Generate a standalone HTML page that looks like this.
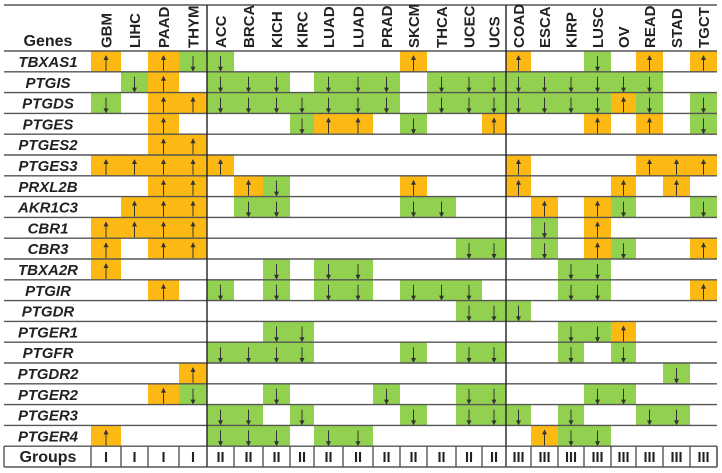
<!DOCTYPE html>
<html><head><meta charset="utf-8"><style>
html,body{margin:0;padding:0;background:#fff;}
svg{display:block;font-family:"Liberation Sans",Arial,sans-serif;}
</style></head><body>
<svg id="chart" width="722" height="473" viewBox="0 0 722 473" xmlns="http://www.w3.org/2000/svg"></svg>
<script>
const cancers = ["GBM","LIHC","PAAD","THYM","ACC","BRCA","KICH","KIRC","LUAD","LUAD","PRAD","SKCM","THCA","UCEC","UCS","COAD","ESCA","KIRP","LUSC","OV","READ","STAD","TGCT"];
const groups = ["I","I","I","I","II","II","II","II","II","II","II","II","II","II","II","III","III","III","III","III","III","III","III"];
const genes = ["TBXAS1","PTGIS","PTGDS","PTGES","PTGES2","PTGES3","PRXL2B","AKR1C3","CBR1","CBR3","TBXA2R","PTGIR","PTGDR","PTGER1","PTGFR","PTGDR2","PTGER2","PTGER3","PTGER4"];
// u = up (orange), d = down (green), "" = no change; columns follow `cancers`
const regulation = [
 ["u","","u","d","d","","","","","","","u","","","","u","","","d","","u","","u"],
 ["","d","u","","d","d","d","","d","d","d","","d","d","d","d","d","d","d","d","d","",""],
 ["d","","u","u","d","d","d","d","d","d","d","","d","d","d","d","d","d","d","u","d","","d"],
 ["","","u","","","","","d","u","u","","d","","","u","","","","u","","u","","d"],
 ["","","u","u","","","","","","","","","","","","","","","","","","",""],
 ["u","u","u","u","u","","","","","","","","","","","u","","","","","u","u","u"],
 ["","","u","u","","u","d","","","","","u","","","","u","","","","u","","u",""],
 ["","u","u","u","","d","d","","","","","d","d","","","","u","","u","d","","","d"],
 ["u","u","u","u","","","","","","","","","","","","","d","","u","","","",""],
 ["u","","u","u","","","","","","","","","","d","d","","d","","u","d","","","u"],
 ["u","","","","","","d","","d","d","","","","","","","","d","d","","","",""],
 ["","","u","","d","","d","","d","d","","d","d","d","","","","d","d","","","","u"],
 ["","","","","","","","","","","","","","d","d","d","","","","","","",""],
 ["","","","","","","d","d","","","","","","","","","","d","d","u","","",""],
 ["","","","","d","d","d","d","","","","d","","d","d","","","d","","d","","",""],
 ["","","","u","","","","","","","","","","","","","","","","","","d",""],
 ["","","u","d","","","d","","","","d","","","d","d","","","","d","d","","",""],
 ["","","","","d","d","","d","","","","d","","d","d","d","","d","","","d","d",""],
 ["u","","","","d","d","d","","d","d","","","","","","","u","d","d","","","",""]
];

const NS="http://www.w3.org/2000/svg";
const svg=document.getElementById('chart');
function mk(tag,attrs,parent){const e=document.createElementNS(NS,tag);for(const k in attrs)e.setAttribute(k,attrs[k]);(parent||svg).appendChild(e);return e;}
const colEdges=[91,121,148,179,207,234,263,290,314,343,373,400,427,456,482,506,531,558,584,611,636,663,690,717];
const xL=i=>colEdges[i], xR=i=>colEdges[i+1], xC=i=>(colEdges[i]+colEdges[i+1])/2;
const topY=51, rowH=20.8;
const yT=r=>topY+r*rowH;
const COL={u:"#FDB913",d:"#92D050"};

const cellG=mk('g',{});


regulation.forEach((row,r)=>{
  row.forEach((v,c)=>{
    if(!v) return;
    const rect=mk('rect',{x:xL(c),y:yT(r),width:xR(c)-xL(c),height:rowH,fill:COL[v]},cellG);
    
    
    const cx=xC(c), y0=yT(r)+5, y1=yT(r)+rowH-1;
    const ar=mk('g',{},cellG);
    
    
    mk('line',{x1:cx,y1:y0,x2:cx,y2:y1,stroke:"#333","stroke-width":1},ar);
    if(v==='u') mk('path',{d:`M${cx-2.5},${y0+4} L${cx},${y0-1} L${cx+2.5},${y0+4} Z`,fill:"#333"},ar);
    else mk('path',{d:`M${cx-2.5},${y1-4} L${cx},${y1+1} L${cx+2.5},${y1-4} Z`,fill:"#333"},ar);
  });
});

const lines=mk('g',{stroke:"#555","stroke-width":1.4});


mk('line',{x1:4,y1:5,x2:717,y2:5},lines);
for(let r=0;r<=genes.length+1;r++){
  const y=yT(r);
  mk('line',{x1:4,y1:y,x2:717,y2:y},lines);
}
mk('line',{x1:207,y1:5,x2:207,y2:yT(genes.length+1),stroke:"#222"},lines);
mk('line',{x1:506,y1:5,x2:506,y2:yT(genes.length+1),stroke:"#222"},lines);
const gy0=yT(genes.length), gy1=yT(genes.length+1);
mk('line',{x1:4,y1:gy0,x2:4,y2:gy1},lines);
mk('line',{x1:717,y1:gy0,x2:717,y2:gy1},lines);
colEdges.forEach(x=>mk('line',{x1:x,y1:gy0,x2:x,y2:gy1},lines));

const gh=mk('text',{x:48,y:46,"text-anchor":"middle","font-size":16,"font-weight":"bold",fill:"#222"});
gh.textContent="Genes";


cancers.forEach((c,i)=>{
  const t=mk('text',{x:0,y:0,transform:`translate(${xC(i)+5.5},48) rotate(-90)`,"font-size":15,"font-weight":"bold",fill:"#222","letter-spacing":0});
  t.textContent=c;
  
  
});
genes.forEach((g,r)=>{
  const t=mk('text',{x:48,y:yT(r)+16,"text-anchor":"middle","font-size":15,"font-weight":"bold","font-style":"italic",fill:"#222"});
  t.textContent=g;
  
  
});
const gl=mk('text',{x:48,y:gy0+16,"text-anchor":"middle","font-size":16,"font-weight":"bold",fill:"#222"});
gl.textContent="Groups";


groups.forEach((g,i)=>{
  const t=mk('text',{x:xC(i),y:gy0+16,"text-anchor":"middle","font-size":14.5,"font-weight":"bold",fill:"#222"});
  t.textContent=g;
  
  
});
</script>
</body></html>
